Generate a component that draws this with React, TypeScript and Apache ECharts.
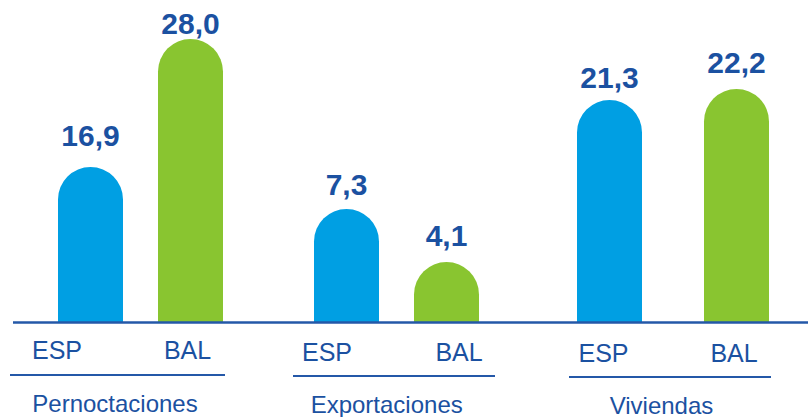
import React, { useEffect, useRef } from "react";
import * as echarts from "echarts";

const groups = ["Pernoctaciones", "Exportaciones", "Viviendas"];
const categories = ["ESP", "BAL"];
const espValues = [16.9, 7.3, 21.3];
const balValues = [28.0, 4.1, 22.2];

// hidden value-axis ranges per group (each panel has its own scale)
const axisMin = [3.46, 0.48, 3.13];
const axisMax = [31.39, 19.92, 29.48];

const BLUE = "#009FE3";
const GREEN = "#89C530";
const TEXT = "#1B51A1";
const LINE = "#2458A8";
const FONT = "'Liberation Sans', Arial, Helvetica, sans-serif";

// layout / style tables
const gridLeft = [40.5, 296.5, 546];
const gridWidth = [200, 200, 254];
const labelGap = [[18, 2], [11, 13], [8.5, 12.7]];
const tickShift = [[-33.5, -3], [-19.5, 12.5], [-6, -2.5]];
const tickMargin = [15, 17.5, 18];
const underline = [[10, 225, 375], [293, 495, 376], [569, 771, 377]];
const groupLabelPos = [[115, 403], [386.7, 404.5], [661.5, 405]];

export default function App() {
  const ref = useRef<HTMLDivElement>(null);
  useEffect(() => {
    if (!ref.current) return;
    const chart = echarts.init(ref.current, undefined, { renderer: "svg" });
    const fmt = (v: number) => v.toFixed(1).replace(".", ",");

    const grid = groups.map((_, i) => ({
      left: gridLeft[i],
      width: gridWidth[i],
      top: 0,
      bottom: 95,
      containLabel: false,
    }));

    const xAxis = groups.map((_, i) => {
      const rich: any = {};
      categories.forEach((_, j) => {
        const dx = tickShift[i][j];
        rich["l" + j] = {
          fontFamily: FONT,
          fontSize: 25,
          color: TEXT,
          padding: dx < 0 ? [0, -2 * dx, 0, 0] : [0, 0, 0, 2 * dx],
        };
      });
      return {
        type: "category",
        gridIndex: i,
        data: categories,
        axisLine: { show: false },
        axisTick: { show: false },
        axisLabel: {
          interval: 0,
          hideOverlap: false,
          margin: tickMargin[i],
          fontFamily: FONT,
          fontSize: 25,
          color: TEXT,
          formatter: (v: string, idx: number) => `{l${idx}|${v}}`,
          rich,
        },
      };
    });

    const yAxis = groups.map((_, i) => ({
      type: "value",
      gridIndex: i,
      min: axisMin[i],
      max: axisMax[i],
      startValue: axisMin[i],
      show: false,
      splitLine: { show: false },
    }));

    const series = groups.map((g, i) => ({
      type: "bar",
      name: g,
      xAxisIndex: i,
      yAxisIndex: i,
      barWidth: 65,
      clip: true,
      data: [espValues[i], balValues[i]].map((v, j) => ({
        value: v,
        itemStyle: {
          color: j === 0 ? BLUE : GREEN,
          borderRadius: [32.5, 32.5, 0, 0],
        },
        label: {
          show: true,
          position: "top",
          distance: labelGap[i][j] - 1,
          formatter: () => fmt(v),
          fontFamily: FONT,
          fontSize: 30,
          fontWeight: "bold",
          color: TEXT,
        },
      })),
    }));

    const graphic: any[] = [
      {
        type: "line",
        shape: { x1: 13, y1: 322.5, x2: 808, y2: 322.5 },
        style: { stroke: LINE, lineWidth: 2.5 },
        z: 10,
      },
    ];
    underline.forEach(([x1, x2, y]) => {
      graphic.push({
        type: "line",
        shape: { x1, y1: y, x2, y2: y },
        style: { stroke: LINE, lineWidth: 2 },
      });
    });
    groups.forEach((g, i) => {
      graphic.push({
        type: "text",
        x: groupLabelPos[i][0],
        y: groupLabelPos[i][1],
        style: {
          text: g,
          fill: TEXT,
          font: `24px ${FONT}`,
          textAlign: "center",
          textVerticalAlign: "middle",
        },
      });
    });

    chart.setOption({
      animation: false,
      backgroundColor: "#ffffff",
      grid,
      xAxis,
      yAxis,
      series,
      graphic,
    });
    return () => chart.dispose();
  }, []);

  return (
    <div
      ref={ref}
      style={{ position: "fixed", left: 0, top: 0, width: 808, height: 417 }}
    />
  );
}
